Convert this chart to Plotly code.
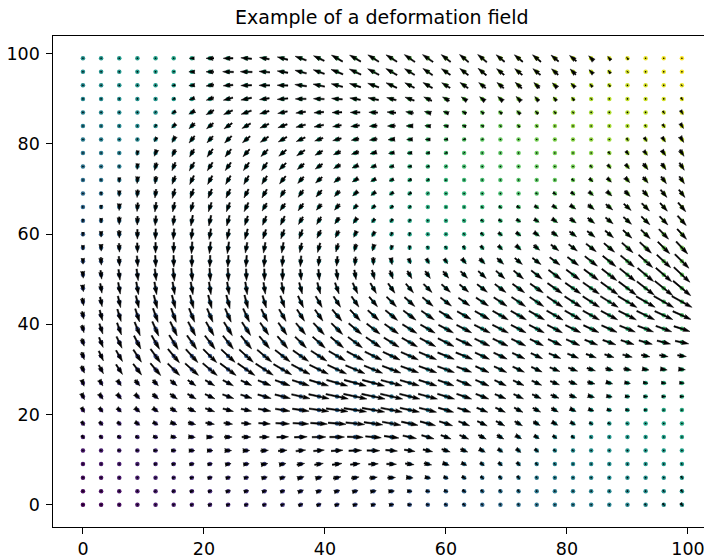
import math
import plotly.graph_objects as go

# ---------------- data ----------------
X_VALUES = list(range(0, 100, 3))
Y_VALUES = list(range(0, 100, 3))
TITLE = "Example of a deformation field"
X_TICKS = [0, 20, 40, 60, 80, 100]
Y_TICKS = [0, 20, 40, 60, 80, 100]

# arrow lengths (screen px), rows from y=99 (top) down to y=0
ARROW_LEN_ROWS = [
    [0,0,0,0,0,0,5,8,10,11,10,11,12,12,13,13,13,13,13,13,12,12,12,11,11,11,10,9,7,5,3,0,0,0],
    [0,0,0,0,0,2,6,8,11,12,11,11,12,12,13,13,13,13,12,12,11,11,11,10,10,10,9,8,6,4,2,0,0,0],
    [0,0,0,0,0,3,6,8,10,11,11,11,12,12,12,12,12,12,11,11,10,10,9,9,9,8,7,6,4,3,1,0,0,2],
    [0,0,0,0,0,3,6,8,10,11,10,11,11,11,11,11,11,10,10,9,8,7,7,7,7,6,5,4,2,0,0,0,1,3],
    [0,0,0,0,2,5,7,9,10,11,10,10,10,10,10,10,9,9,8,7,6,5,4,4,5,4,3,2,0,0,0,1,3,5],
    [0,0,0,1,3,6,8,9,10,10,10,10,10,10,9,9,8,8,7,6,5,4,3,2,3,2,0,0,0,0,1,2,4,6],
    [0,0,0,2,5,7,9,9,10,10,10,10,10,9,9,8,8,7,6,5,4,3,2,1,0,0,0,0,0,0,3,5,6,7],
    [0,0,1,5,7,8,9,10,10,10,10,10,10,9,8,8,7,6,5,4,3,2,1,0,0,0,0,0,0,3,5,6,7,8],
    [0,0,2,6,8,9,10,10,10,10,10,10,9,9,8,7,6,5,4,3,2,1,0,0,0,0,0,0,3,5,6,8,8,9],
    [0,2,5,7,8,9,10,10,10,10,10,10,9,9,8,7,6,5,4,3,2,1,0,0,0,0,0,3,5,6,7,8,9,9],
    [1,3,6,8,9,10,10,10,10,10,10,9,9,9,8,7,6,5,4,2,1,0,0,0,1,2,4,5,6,7,8,9,10,10],
    [2,4,7,9,10,10,10,10,10,10,9,9,9,8,8,6,5,4,3,1,1,1,2,3,4,5,6,7,8,9,10,11,11,12],
    [3,5,8,9,10,10,11,11,11,10,10,10,9,9,8,7,5,4,3,1,1,2,3,4,5,6,7,8,9,10,11,12,12,13],
    [4,6,8,10,11,11,11,11,11,11,10,10,10,9,8,7,6,4,3,1,1,2,4,5,6,7,8,9,10,11,12,13,14,14],
    [5,7,9,10,11,11,12,12,12,11,11,11,10,10,9,8,7,5,4,3,3,4,5,6,7,8,10,11,13,14,15,16,17,17],
    [6,8,10,11,12,12,12,12,12,12,12,11,11,10,10,9,8,7,6,6,6,7,8,9,10,11,13,14,16,17,18,19,19,20],
    [7,9,11,12,12,13,13,13,13,12,12,12,11,11,11,10,10,9,9,9,9,10,11,12,13,14,16,17,18,19,20,21,21,22],
    [7,10,12,13,13,13,13,13,13,13,12,12,12,12,12,12,12,12,12,12,12,12,13,14,15,16,18,19,20,21,22,22,23,23],
    [8,10,12,13,14,14,14,14,14,14,13,13,13,13,13,13,13,14,14,14,14,14,15,16,17,17,19,20,20,21,22,22,23,23],
    [8,11,13,14,15,15,15,15,15,15,14,14,14,14,15,15,15,16,16,16,16,16,17,18,18,18,19,19,19,19,20,20,20,20],
    [8,11,13,15,16,16,16,16,16,16,15,15,15,16,16,17,17,17,17,17,17,17,18,18,17,17,17,17,17,17,17,17,17,17],
    [8,11,13,15,16,17,17,17,17,17,16,16,16,17,17,18,18,18,18,18,18,18,17,17,16,15,15,15,14,14,14,14,14,14],
    [8,11,13,15,17,18,18,19,19,19,19,19,19,19,19,19,19,19,19,19,18,18,16,15,14,13,13,12,11,10,10,9,9,9],
    [8,10,12,14,16,17,18,19,20,21,21,21,21,21,21,21,20,20,19,19,18,16,15,14,13,12,11,10,9,8,8,7,7,7],
    [7,7,7,8,8,9,10,11,12,12,14,16,18,20,22,23,23,22,20,19,17,16,15,13,12,11,10,9,8,7,6,5,5,5],
    [7,7,7,7,8,9,10,11,12,12,14,16,19,21,23,24,24,23,21,20,18,16,14,12,11,10,9,8,7,6,5,4,4,4],
    [6,6,6,7,7,8,9,10,11,11,13,15,17,20,22,23,23,22,20,18,16,14,12,11,10,9,8,7,6,5,4,3,2,2],
    [5,5,5,6,6,7,8,9,9,10,12,14,16,17,18,19,19,19,17,16,14,12,11,10,9,8,7,6,4,3,2,0,0,0],
    [4,4,4,4,5,6,7,7,8,9,10,12,13,14,15,16,16,15,14,13,11,10,9,8,7,6,5,4,2,0,0,0,0,0],
    [1,2,3,3,4,5,6,6,7,7,8,9,10,11,12,13,13,12,11,10,9,8,7,6,6,5,3,2,0,0,0,0,0,0],
    [0,0,1,2,3,4,5,5,6,6,7,7,8,9,10,10,10,10,9,8,7,6,5,5,5,3,2,0,0,0,0,0,0,2],
    [0,0,0,0,2,3,4,5,5,5,6,6,7,7,8,8,8,8,7,6,5,5,4,4,4,2,0,0,0,0,0,0,1,3],
    [0,0,0,0,2,3,4,4,5,5,5,5,6,6,6,6,6,6,5,4,4,4,3,3,3,1,0,0,0,0,0,0,2,3],
    [0,0,0,0,0,2,3,4,4,4,4,4,5,5,5,5,5,5,4,3,3,3,2,2,2,0,0,0,0,0,0,2,3,4],
]

# arrow directions (degrees, screen space, 0 = right, 90 = up), same layout
ARROW_ANGLE_ROWS = [
    [0,0,0,0,0,0,180,180,180,175,170,165,160,155,150,150,148,148,145,145,142,140,140,140,140,140,140,140,135,130,130,0,0,0],
    [0,0,0,0,0,180,180,180,178,178,175,170,165,160,158,155,152,150,148,145,145,142,140,140,140,140,138,135,135,130,130,0,0,0],
    [0,0,0,0,0,190,185,190,185,182,180,178,172,168,165,162,160,155,152,150,148,145,142,140,138,135,135,135,130,130,0,0,0,-50],
    [0,0,0,0,0,200,200,200,195,192,188,185,180,178,175,170,168,165,160,155,150,145,140,138,135,130,130,130,130,0,0,0,0,-55],
    [0,0,0,0,220,215,210,210,205,200,197,192,188,185,182,180,178,175,170,165,160,150,140,140,135,135,135,135,0,0,0,0,-55,-58],
    [0,0,0,0,230,225,225,220,215,210,205,200,195,192,190,188,185,182,180,175,170,165,160,150,135,135,0,0,0,0,0,-55,-55,-58],
    [0,0,0,250,240,240,232,228,225,220,215,210,205,200,195,192,190,185,182,180,190,200,210,0,0,0,0,0,0,0,-55,-55,-55,-58],
    [0,0,0,260,250,245,240,235,232,228,225,220,215,210,205,200,195,190,185,190,200,210,0,0,0,0,0,0,0,-50,-52,-52,-55,-57],
    [0,0,265,265,255,248,240,238,235,235,235,225,220,215,210,205,200,195,190,200,210,0,0,0,0,0,0,0,-45,-48,-50,-52,-55,-57],
    [0,270,268,265,262,250,245,242,240,240,238,232,228,222,218,212,208,205,205,210,0,0,0,0,0,0,0,-40,-42,-45,-48,-50,-53,-55],
    [0,270,268,265,262,255,250,248,245,243,240,238,235,230,228,222,218,215,215,220,0,0,0,0,0,-35,-35,-38,-40,-42,-45,-48,-50,-52],
    [265,268,268,265,262,258,255,252,250,245,240,235,235,230,230,225,220,220,220,0,0,0,-30,-30,-30,-32,-35,-35,-38,-40,-42,-45,-48,-50],
    [265,268,270,268,265,262,260,258,255,252,248,245,240,240,235,235,230,230,230,0,0,-40,-35,-32,-32,-33,-35,-36,-38,-40,-42,-44,-46,-48],
    [268,270,272,270,268,265,263,260,258,255,252,250,250,245,245,245,240,245,260,0,0,-50,-45,-40,-38,-36,-36,-37,-38,-40,-42,-44,-46,-48],
    [270,272,273,272,270,268,266,264,262,260,260,260,258,255,255,255,255,255,265,290,300,300,-50,-45,-42,-40,-38,-38,-38,-40,-42,-43,-45,-47],
    [272,274,275,275,273,271,270,268,267,266,265,265,265,265,265,265,270,280,290,300,305,310,-45,-43,-40,-38,-37,-37,-38,-39,-40,-42,-43,-45],
    [275,277,278,278,277,276,275,274,273,272,271,270,275,275,278,280,285,290,300,305,310,315,-43,-42,-40,-38,-37,-37,-37,-38,-39,-40,-41,-43],
    [278,280,280,280,280,280,280,279,279,279,279,280,285,285,290,295,300,305,310,315,318,320,-38,-37,-36,-35,-35,-35,-35,-36,-37,-38,-39,-40],
    [280,282,283,284,285,285,285,285,285,285,287,290,295,300,303,305,310,315,318,320,322,325,-34,-34,-34,-34,-34,-33,-33,-32,-31,-30,-30,-29],
    [282,285,287,288,290,290,292,293,294,295,297,300,303,305,310,313,318,320,323,325,328,330,-30,-30,-30,-30,-30,-30,-29,-28,-27,-26,-25,-24],
    [285,288,290,292,294,296,298,300,302,303,305,305,310,313,315,320,322,325,328,330,332,333,-27,-27,-27,-27,-27,-26,-25,-24,-22,-21,-20,-18],
    [288,292,295,297,300,302,305,307,308,309,310,310,315,318,320,323,325,328,330,332,333,335,-26,-26,-26,-26,-25,-24,-22,-20,-18,-16,-14,-12],
    [290,295,300,303,306,310,312,315,317,318,320,322,325,327,330,332,334,335,336,337,338,338,-25,-25,-25,-25,-23,-22,-20,-18,-15,-12,-10,-8],
    [292,298,303,307,310,315,318,320,323,325,327,330,332,334,335,337,338,339,340,340,340,340,-25,-25,-25,-25,-22,-20,-18,-15,-12,-10,-8,-5],
    [-70,-60,-55,-50,-45,-40,-35,-30,-28,-25,-22,-20,-18,-17,-16,-15,-15,-15,-16,-18,-20,-22,-24,-25,-25,-25,-22,-20,-15,-15,-10,-8,-6,-5],
    [-65,-55,-50,-45,-40,-35,-30,-25,-20,-18,-16,-14,-13,-12,-12,-12,-12,-13,-14,-15,-17,-19,-21,-22,-25,-25,-22,-20,-15,-10,-5,0,0,0],
    [-60,-50,-45,-40,-35,-30,-25,-20,-15,-12,-10,-9,-8,-8,-8,-9,-10,-11,-12,-14,-16,-18,-22,-25,-28,-28,-28,-25,-20,-15,-10,0,0,0],
    [-55,-45,-40,-35,-30,-20,-15,-10,-8,-5,-4,-3,-3,-4,-5,-6,-8,-10,-12,-15,-18,-22,-25,-28,-30,-30,-30,-30,-30,-30,-30,0,0,0],
    [-50,-40,-30,-20,-15,-10,-5,0,0,0,1,2,2,1,0,-2,-5,-8,-12,-16,-20,-24,-27,-30,-30,-32,-35,-35,-35,0,0,0,0,0],
    [0,-20,-10,-5,0,0,0,0,0,2,4,5,6,5,4,2,-1,-5,-9,-13,-18,-22,-28,-35,-40,-40,-40,-40,0,0,0,0,0,0],
    [0,0,0,5,10,10,10,10,10,8,10,10,10,9,8,6,3,-2,-7,-12,-18,-25,-35,-40,-45,-45,-45,0,0,0,0,0,0,-80],
    [0,0,0,0,15,15,15,15,15,12,14,15,15,14,12,10,7,2,-5,-10,-20,-30,-40,-45,-50,-50,0,0,0,0,0,0,0,-60],
    [0,0,0,0,20,20,20,20,18,15,18,20,20,18,16,14,10,5,-2,-10,-20,-35,-45,-50,-50,0,0,0,0,0,0,0,-50,-55],
    [0,0,0,0,0,25,25,25,20,18,20,22,22,20,18,15,12,8,0,-10,-25,-40,-45,-50,-50,0,0,0,0,0,0,-45,-50,-50],
]

# ---------------- geometry / style ----------------
W, H = 704, 557
ML, MR, MT, MB = 53, 0, 36, 30
XMIN, YMIN, YMAX = -4.95, -4.95, 103.95
SX = 6.05                                  # px per x unit
XMAX = XMIN + (W - ML - MR) / SX
SY = (H - MT - MB) / (YMAX - YMIN)         # px per y unit

SHAFT = 1.4
HEAD_W, HEAD_L, HEAD_AX = 3 * SHAFT, 5 * SHAFT, 4.5 * SHAFT
FONT = "DejaVu Sans"

poly_x, poly_y = [], []
tiny_x, tiny_y = [], []
dot_x, dot_y, dot_c = [], [], []
n = len(Y_VALUES)
for r, (lens, angs) in enumerate(zip(ARROW_LEN_ROWS, ARROW_ANGLE_ROWS)):
    y0 = Y_VALUES[n - 1 - r]
    for c, (L, a) in enumerate(zip(lens, angs)):
        x0 = X_VALUES[c]
        dot_x.append(x0); dot_y.append(y0); dot_c.append(x0 + y0)
        if L < SHAFT:
            tiny_x.append(x0); tiny_y.append(y0)
            continue
        Lr = max(L, HEAD_L)
        k = L / Lr
        pts = [(0, SHAFT / 2), (Lr - HEAD_AX, SHAFT / 2), (Lr - HEAD_L, HEAD_W / 2), (Lr, 0),
               (Lr - HEAD_L, -HEAD_W / 2), (Lr - HEAD_AX, -SHAFT / 2), (0, -SHAFT / 2)]
        ca, sa = math.cos(math.radians(a)), math.sin(math.radians(a))
        for (u, v) in pts:
            u = u * k - L / 2
            v = v * k
            px = u * ca - v * sa
            py = u * sa + v * ca
            poly_x.append(x0 + px / SX)
            poly_y.append(y0 + py / SY)
        poly_x.append(None); poly_y.append(None)

fig = go.Figure()
fig.add_trace(go.Scatter(
    x=dot_x, y=dot_y, mode="markers", hoverinfo="skip", showlegend=False,
    marker=dict(size=4.5, color=dot_c, colorscale="Viridis", cmin=0, cmax=198, line=dict(width=0)),
))
fig.add_trace(go.Scatter(
    x=poly_x, y=poly_y, mode="lines", fill="toself", fillcolor="black",
    line=dict(color="black", width=0.5), hoverinfo="skip", showlegend=False,
))
fig.add_trace(go.Scatter(
    x=tiny_x, y=tiny_y, mode="markers", hoverinfo="skip", showlegend=False,
    marker=dict(size=1.6, color="black", line=dict(width=0)),
))

axis_common = dict(
    showgrid=False, zeroline=False, showline=True, linecolor="black", linewidth=1.2,
    ticks="outside", ticklen=5.5, tickwidth=1.2, tickcolor="black", automargin=False,
    ticklabeloverflow="allow",
    tickfont=dict(family=FONT, size=17.5, color="black"),
)
fig.update_layout(
    width=W, height=H,
    margin=dict(l=ML, r=MR, t=MT, b=MB, pad=0, autoexpand=False),
    paper_bgcolor="white", plot_bgcolor="white",
    xaxis=dict(range=[XMIN, XMAX], tickvals=X_TICKS, mirror=True, ticklabelstandoff=0, **axis_common),
    yaxis=dict(range=[YMIN, YMAX], tickvals=Y_TICKS, ticklabelstandoff=3, **axis_common),
    annotations=[dict(
        text=TITLE, xref="paper", yref="paper", x=(382 - ML) / (W - ML - MR), y=1,
        xanchor="center", yanchor="bottom", yshift=6, showarrow=False,
        font=dict(family=FONT, size=19, color="black"),
    )],
)
fig.write_html(
    "out.html",
    config={"displayModeBar": False},
    post_script="document.body.style.margin='0';document.body.style.overflow='hidden';",
)
